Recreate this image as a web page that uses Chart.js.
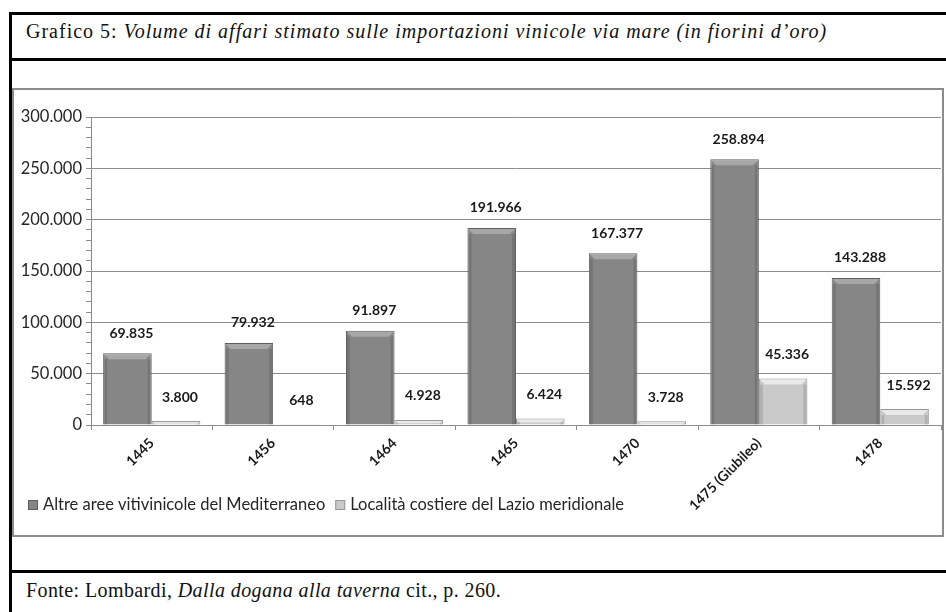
<!DOCTYPE html>
<html>
<head>
<meta charset="utf-8">
<script src="https://cdn.jsdelivr.net/npm/chart.js@4.4.0/dist/chart.umd.min.js"></script>
<style>
  html, body { margin: 0; background: #fff; width: 946px; height: 612px; overflow: hidden; }
  body { position: relative; }
  .frame { position: absolute; left: 9px; top: 12px; width: 934px; height: 600px; border-left: 3px solid #000; border-top: 3px solid #000; }
  .rule { position: absolute; left: 9px; width: 937px; height: 3px; background: #000; }
  .title { position: absolute; left: 26px; top: 20px; font: 20px "Liberation Serif", serif; letter-spacing: 1px; color: #111; white-space: nowrap; }
  .source { position: absolute; left: 26px; top: 579px; font: 20px "Liberation Serif", serif; letter-spacing: 0.4px; color: #111; white-space: nowrap; }
  .box { position: absolute; left: 12px; top: 88px; width: 928px; height: 445px; border: 2px solid #8c8c8c; }
  canvas { display: block; }
</style>
</head>
<body>
<div class="frame"></div>
<div class="rule" style="top:58px"></div>
<div class="rule" style="top:570px"></div>
<div class="title">Grafico 5: <i>Volume di affari stimato sulle importazioni vinicole via mare (in fiorini d’oro)</i></div>
<div class="box"><canvas id="chart" width="928" height="445"></canvas></div>
<div class="source">Fonte: Lombardi, <i>Dalla dogana alla taverna</i> cit., p. 260.</div>

<script>
const categories = ["1445", "1456", "1464", "1465", "1470", "1475 (Giubileo)", "1478"];
const seriesNames = ["Altre aree vitivinicole del Mediterraneo", "Località costiere del Lazio meridionale"];
const mediterraneo = [69835, 79932, 91897, 191966, 167377, 258894, 143288];
const lazio = [3800, 648, 4928, 6424, 3728, 45336, 15592];
const yMax = 300000;
const yMajor = 50000;
const yMinor = 10000;

// 300000 -> "300.000"
function fmt(v) {
  return String(v).replace(/\B(?=(\d{3})+(?!\d))/g, ".");
}

// excel-ish bevel on top of each bar
const bevel = {
  id: "bevel",
  afterDatasetsDraw(chart) {
    const ctx = chart.ctx;
    ctx.save();
    chart.data.datasets.forEach((ds, i) => {
      chart.getDatasetMeta(i).data.forEach((bar) => {
        const p = bar.getProps(["x", "y", "base", "width"], true);
        const h = p.base - p.y;
        if (h < 3) return;
        const l = p.x - p.width / 2, r = p.x + p.width / 2;
        const b = Math.min(5, h / 2);
        ctx.fillStyle = i === 0 ? "rgba(255,255,255,0.28)" : "rgba(255,255,255,0.6)";
        ctx.beginPath();
        ctx.moveTo(l + 1, p.y + 1);
        ctx.lineTo(r - 1, p.y + 1);
        ctx.lineTo(r - 1 - b, p.y + 1 + b);
        ctx.lineTo(l + 1 + b, p.y + 1 + b);
        ctx.closePath();
        ctx.fill();
        ctx.fillStyle = "rgba(0,0,0,0.12)";
        ctx.fillRect(l + 1, p.y + 1 + b, 3, h - b - 1);
        ctx.fillRect(r - 4, p.y + 1 + b, 3, h - b - 1);
      });
    });
    ctx.restore();
  }
};

const valueLabels = {
  id: "valueLabels",
  afterDatasetsDraw(chart) {
    const ctx = chart.ctx;
    ctx.save();
    ctx.font = "bold 14px Lato";
    ctx.fillStyle = "#1a1a1a";
    ctx.textAlign = "center";
    ctx.textBaseline = "middle";
    chart.data.datasets.forEach((ds, i) => {
      chart.getDatasetMeta(i).data.forEach((bar, j) => {
        ctx.fillText(fmt(ds.data[j]), bar.x + 4, bar.y - (i === 0 ? 20 : 24));
      });
    });
    ctx.restore();
  }
};

// legend sits beside the long rotated label, like the excel original
const sideLegend = {
  id: "sideLegend",
  afterDraw(chart) {
    const ctx = chart.ctx;
    const y = chart.chartArea.bottom + 80;
    let x = 14;
    ctx.save();
    ctx.font = "16.5px Lato";
    ctx.textBaseline = "middle";
    chart.data.datasets.forEach((ds) => {
      ctx.fillStyle = ds.backgroundColor;
      ctx.strokeStyle = ds.borderColor;
      ctx.lineWidth = 1;
      ctx.fillRect(x, y - 5, 10, 10);
      ctx.strokeRect(x + 0.5, y - 4.5, 9, 9);
      ctx.fillStyle = "#262626";
      ctx.fillText(ds.label, x + 15, y);
      x += 15 + ctx.measureText(ds.label).width + 10;
    });
    ctx.restore();
  }
};

const ctx = document.getElementById("chart").getContext("2d");

new Chart(ctx, {
  type: "bar",
  data: {
    labels: categories,
    datasets: [
      {
        label: seriesNames[0],
        data: mediterraneo,
        backgroundColor: "#868686",
        borderColor: "#5f5f5f",
        borderWidth: 1,
        categoryPercentage: 0.8,
        barPercentage: 1.0,
      },
      {
        label: seriesNames[1],
        data: lazio,
        backgroundColor: "#c9c9c9",
        borderColor: "#979797",
        borderWidth: 1,
        categoryPercentage: 0.8,
        barPercentage: 1.0,
      },
    ],
  },
  options: {
    responsive: false,
    animation: false,
    layout: { padding: { left: 4, right: 1, top: 27, bottom: 0 } },
    plugins: {
      legend: { display: false },
      tooltip: { enabled: false },
    },
    scales: {
      x: {
        grid: { offset: true, drawOnChartArea: false, drawTicks: true, tickLength: 5, tickColor: "#8c8c8c" },
        border: { color: "#8c8c8c" },
        ticks: {
          maxRotation: 45,
          minRotation: 45,
          padding: 5,
          color: "#1a1a1a",
          font: { family: "Lato", size: 14, weight: "bold" },
        },
        afterFit(scale) { scale.height = 110; },
      },
      y: {
        min: 0,
        max: yMax,
        ticks: {
          stepSize: yMinor,
          autoSkip: false,
          maxTicksLimit: 100,
          padding: 4,
          color: "#262626",
          font: { family: "Lato", size: 16.5 },
          callback: (v) => (v % yMajor === 0 ? fmt(v) : ""),
        },
        grid: {
          color: (c) => (c.tick && c.tick.value % yMajor === 0 ? "#8c8c8c" : "rgba(0,0,0,0)"),
          tickColor: "#8c8c8c",
          tickLength: 5,
        },
        border: { color: "#8c8c8c" },
        afterFit(scale) { scale.width = 73; },
      },
    },
  },
  plugins: [bevel, valueLabels, sideLegend],
});
</script>
</body>
</html>
